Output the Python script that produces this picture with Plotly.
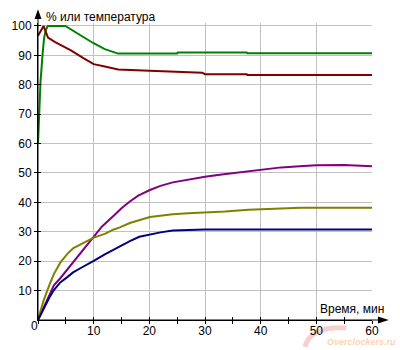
import plotly.graph_objects as go

# Time axis (minutes) and measured values for each curve
t_green = [0, 0.2, 0.45, 0.85, 1.1, 1.4, 1.75, 4.9, 7, 9.9, 12, 14.4, 25, 25.1, 37.5, 37.6, 60]
v_green = [60, 72, 81, 91, 96, 98.5, 100, 100, 97.5, 94.2, 92.1, 90.6, 90.6, 91.0, 91.0, 90.7, 90.7]

t_red = [0, 0.5, 1.0, 1.4, 1.8, 3, 4.5, 6, 8, 10, 12, 14.4, 20, 26, 29.5, 30, 37.5, 37.6, 60]
v_red = [96.7, 98.4, 100, 98, 96, 94.6, 93.2, 91.6, 89.2, 87, 86.2, 85.2, 84.8, 84.5, 84.1, 83.6, 83.6, 83.3, 83.3]

t_purple = [0, 1, 2, 2.85, 4, 5.8, 8, 9.9, 11.5, 13.5, 15, 16.5, 18, 20.1, 22, 24.2, 27.7, 30, 33, 36, 40,
            43.7, 47, 50, 55, 58, 60]
v_purple = [0, 4.2, 8.4, 11.8, 14.2, 18.4, 23.5, 28.3, 31.8, 35.3, 38.0, 40.3, 42.3, 44.2, 45.6, 46.8, 48.1,
            48.7, 49.5, 50.2, 51.0, 51.9, 52.3, 52.6, 52.7, 52.6, 52.3]

t_olive = [0, 1, 2, 2.85, 4, 5.2, 6.3, 7.6, 9, 10, 12, 13.5, 14.7, 16.5, 20.1, 24.2, 27, 30, 33.6, 37.8,
           41.9, 47.2, 60]
v_olive = [0, 6.6, 11.7, 15.6, 19.5, 22.3, 24.4, 25.7, 27.2, 28.0, 29.3, 30.7, 31.5, 33.0, 35.0, 36.0,
           36.3, 36.5, 36.9, 37.5, 37.8, 38.2, 38.2]

t_navy = [0, 1, 2, 2.85, 4, 5.2, 6.3, 7.6, 9, 10, 12, 14.7, 16.5, 18.2, 20.1, 22, 24.2, 27, 30, 60]
v_navy = [0, 3.8, 7.5, 10.2, 12.8, 14.5, 16.2, 17.6, 19.0, 20.1, 22.3, 25.1, 26.8, 28.3, 29.1, 29.8,
          30.4, 30.7, 30.8, 30.8]

x_ticks = [0, 10, 20, 30, 40, 50, 60]
x_labels = ["", "10", "20", "30", "40", "50", "60"]
y_ticks = [10, 20, 30, 40, 50, 60, 70, 80, 90, 100]
y_labels = [str(v) for v in y_ticks]

y_title = "% или температура"
x_title = "Время, мин"
watermark = "Overclockers.ru"

FONT = "Liberation Sans, Arial, sans-serif"
W, H = 400, 350
ML, MR, MT, MB = 34, 28, 23, 27
PW, PH = W - ML - MR, H - MT - MB


def px(x):
    return (x - ML) / PW


def py(y):
    return (H - MB - y) / PH


series = [
    (t_green, v_green, "#008000"),
    (t_red, v_red, "#800000"),
    (t_purple, v_purple, "#800080"),
    (t_olive, v_olive, "#808000"),
    (t_navy, v_navy, "#000080"),
]

fig = go.Figure()
for tx, vy, col in series:
    fig.add_trace(go.Scatter(x=tx, y=vy, mode="lines", line=dict(color=col, width=2),
                             hoverinfo="skip", showlegend=False))

# invisible trace to bring up the overlay axes (inner half of the crossing ticks)
fig.add_trace(go.Scatter(x=[0], y=[0], xaxis="x2", yaxis="y2", mode="markers",
                         marker=dict(opacity=0), showlegend=False, hoverinfo="skip"))

axis_common = dict(showgrid=True, gridcolor="#c0c0c0", gridwidth=1, zeroline=False,
                   ticks="outside", ticklen=3, tickwidth=1, tickcolor="black",
                   tickfont=dict(family=FONT, size=12, color="black"),
                   showline=True, linecolor="black", linewidth=1)

fig.update_layout(
    width=W, height=H,
    margin=dict(l=ML, r=MR, t=MT, b=MB),
    paper_bgcolor="white", plot_bgcolor="white",
    xaxis=dict(range=[0, 60], tickmode="array", tickvals=x_ticks, ticktext=x_labels,
               ticklabelstandoff=-3,
               minor=dict(dtick=5, tick0=0, ticks="outside", ticklen=3, tickcolor="black", showgrid=False),
               **axis_common),
    yaxis=dict(range=[0, 101], tickmode="array", tickvals=y_ticks, ticktext=y_labels, **axis_common),
    xaxis2=dict(overlaying="x", matches="x", range=[0, 60], tickmode="array", tickvals=x_ticks,
                showticklabels=False, showgrid=False, zeroline=False, showline=False,
                ticks="inside", ticklen=3, tickcolor="black", side="bottom",
                minor=dict(dtick=5, tick0=0, ticks="inside", ticklen=3, tickcolor="black", showgrid=False)),
    yaxis2=dict(overlaying="y", matches="y", range=[0, 101], tickmode="array", tickvals=y_ticks,
                showticklabels=False, showgrid=False, zeroline=False, showline=False,
                ticks="inside", ticklen=3, tickcolor="black", side="left"),
    showlegend=False,
)

shapes = [
    # axis extensions
    dict(type="line", xref="paper", yref="paper", x0=px(34), x1=px(34), y0=py(323), y1=py(14),
         line=dict(color="black", width=1)),
    dict(type="line", xref="paper", yref="paper", x0=px(34), x1=px(382), y0=py(323), y1=py(323),
         line=dict(color="black", width=1)),
    # arrowheads
    dict(type="path", xref="paper", yref="paper",
         path=f"M {px(34)},{py(9)} L {px(30.5)},{py(19)} L {px(37.5)},{py(19)} Z",
         fillcolor="black", line=dict(color="black", width=0)),
    dict(type="path", xref="paper", yref="paper",
         path=f"M {px(389)},{py(323)} L {px(378)},{py(319.5)} L {px(378)},{py(326.5)} Z",
         fillcolor="black", line=dict(color="black", width=0)),
    # faint watermark swoosh
    dict(type="path", xref="paper", yref="paper", layer="below",
         path=f"M {px(304)},{py(350)} Q {px(310)},{py(329)} {px(346)},{py(331)}",
         line=dict(color="rgba(230,120,120,0.35)", width=5)),
]
fig.update_layout(shapes=shapes)

fig.add_annotation(x=px(40), y=py(17), xref="paper", yref="paper", text=y_title, showarrow=False,
                   xanchor="left", yanchor="middle", font=dict(family=FONT, size=12, color="black"))
fig.add_annotation(x=px(386), y=py(312), xref="paper", yref="paper", text=x_title, showarrow=False,
                   xanchor="right", yanchor="middle", font=dict(family=FONT, size=12, color="black"))
fig.add_annotation(x=px(30), y=py(329), xref="paper", yref="paper", text="0", showarrow=False,
                   xanchor="center", yanchor="middle", font=dict(family=FONT, size=12, color="black"))
fig.add_annotation(x=px(397), y=py(351.5), xref="paper", yref="paper", text=watermark, showarrow=False,
                   xanchor="right", yanchor="bottom", borderpad=0,
                   font=dict(family=FONT, size=9, color="rgba(245,150,90,0.45)", style="italic", weight="bold"))

fig.write_html("out.html")
